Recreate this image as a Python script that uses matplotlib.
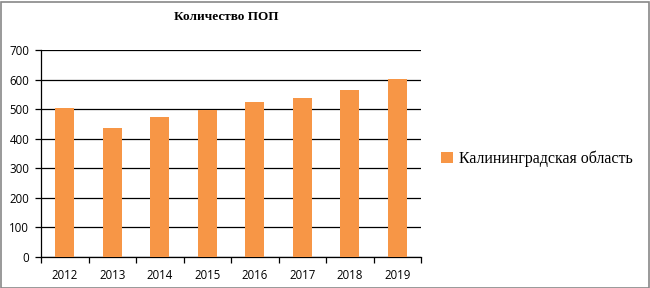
import matplotlib
matplotlib.use("Agg")
import matplotlib.pyplot as plt
from matplotlib.patches import Rectangle
import numpy as np

years = ["2012", "2013", "2014", "2015", "2016", "2017", "2018", "2019"]
values = [503, 435, 472, 496, 523, 537, 564, 601]
series_name = "Калининградская область"
title = "Количество ПОП"
yticks = [0, 100, 200, 300, 400, 500, 600, 700]

bar_color = "#F79646"

fig = plt.figure(figsize=(6.5, 2.88), dpi=100)
ax = fig.add_axes([41/650, 1-257/288, (421-41)/650, (257-50)/288])

x = np.arange(len(years))
ax.bar(x, values, width=0.4, color=bar_color, label=series_name, zorder=3)

ax.set_xlim(-0.5, len(years)-0.5)
ax.set_ylim(0, 700)
ax.set_yticks(yticks)
ax.set_yticklabels([str(t) for t in yticks], fontfamily="Open Sans", fontsize=8.3)
ax.yaxis.grid(True, color="black", linewidth=0.9, zorder=0)
ax.set_axisbelow(True)

ax.set_xticks(x)
ax.set_xticklabels(years, fontfamily="Open Sans", fontsize=8.3)
ax.tick_params(axis="x", length=0, pad=8.5)
ax.set_xticks(np.arange(-0.5, len(years)), minor=True)
ax.tick_params(axis="x", which="minor", length=4, width=0.9, direction="out")
ax.tick_params(axis="y", length=4.5, width=0.9, pad=4)

for s in ["top", "right"]:
    ax.spines[s].set_visible(False)
for s in ["left", "bottom"]:
    ax.spines[s].set_linewidth(0.9)
    ax.spines[s].set_color("black")

fig.text(226/650, 1-17/288, title, ha="center", va="center",
         fontfamily="Liberation Serif", fontweight="bold", fontsize=9.5)

leg = fig.legend(loc="center left", bbox_to_anchor=(427/650, 1-159/288),
                 frameon=False, prop={"family": "Liberation Serif", "size": 11.5},
                 handlelength=0.7, handleheight=0.7, handletextpad=0.4)

fig.add_artist(Rectangle((0.5/650, 0.5/288), 1-2/650, 1-2/288, transform=fig.transFigure,
                         fill=False, edgecolor="#888888", linewidth=1.2))

fig.savefig("out.png", dpi=100)
